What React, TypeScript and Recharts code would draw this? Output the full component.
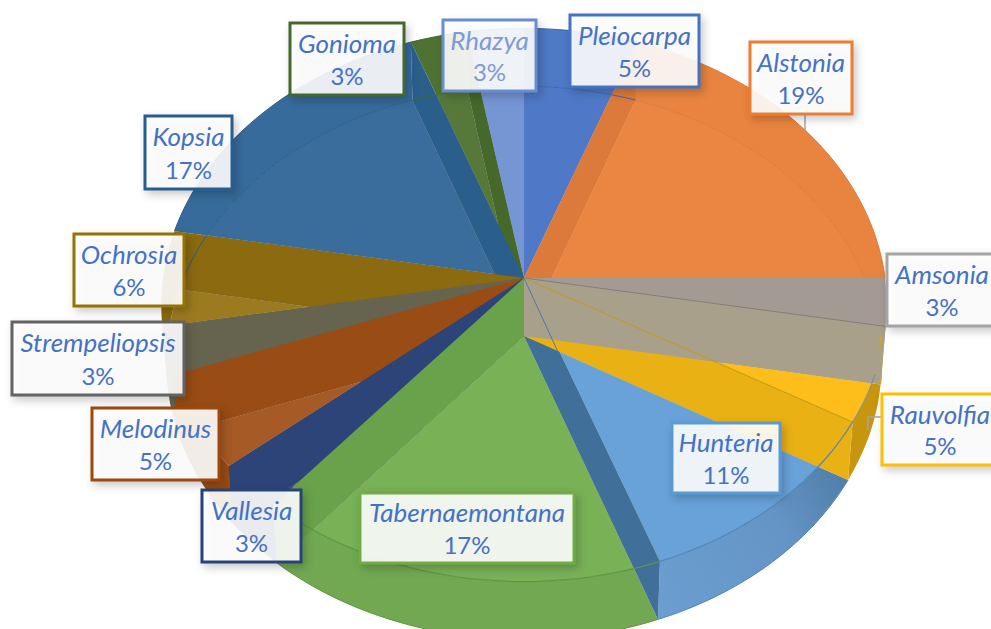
import React from "react";
import { PieChart, Pie } from "recharts";

const genera = ["Pleiocarpa", "Alstonia", "Amsonia", "Rauvolfia", "Hunteria", "Tabernaemontana", "Vallesia", "Melodinus", "Strempeliopsis", "Ochrosia", "Kopsia", "Gonioma", "Rhazya"];
const counts = [2, 7, 1, 2, 4, 6, 1, 2, 1, 2, 6, 1, 1];
const percentLabels = ["5%", "19%", "3%", "5%", "11%", "17%", "3%", "5%", "3%", "6%", "17%", "3%", "3%"];

const rows = genera.map((name, i) => ({ name, value: counts[i], percent: percentLabels[i] }));

// paint order, back to front, so the inner walls overlap as in the 3D original
const paintOrder = ["Rhazya", "Gonioma", "Kopsia", "Ochrosia", "Strempeliopsis", "Melodinus", "Vallesia", "Tabernaemontana", "Hunteria", "Rauvolfia", "Pleiocarpa", "Alstonia", "Amsonia"];

const baseColor: Record<string, string> = {
  Pleiocarpa: "#4e79c5", Alstonia: "#e8843f", Amsonia: "#a39a94", Rauvolfia: "#c8950f", Hunteria: "url(#hunteriaRim)",
  Tabernaemontana: "#72a852", Vallesia: "#2c4477", Melodinus: "#994c14", Strempeliopsis: "#66644f", Ochrosia: "#8b6a10",
  Kopsia: "#366b9b", Gonioma: "#4f7232", Rhazya: "#7595d3",
};
const faceColor: Record<string, string> = {
  Pleiocarpa: "#4f79c6", Alstonia: "#ea8642", Amsonia: "#a39a94", Rauvolfia: "#fdbd1b", Hunteria: "#68a2d9",
  Tabernaemontana: "#79b157", Vallesia: "#2c4477", Melodinus: "#a65a25", Strempeliopsis: "#66644f", Ochrosia: "#9c7a1f",
  Kopsia: "#3a6c9c", Gonioma: "#56793a", Rhazya: "#7595d3",
};
const wallColor: Record<string, string> = {
  Alstonia: "#db7a3a", Amsonia: "#a8a08b", Rauvolfia: "#e9b114", Hunteria: "#40709a",
  Tabernaemontana: "#69a24a", Vallesia: "#2c4477", Melodinus: "#994c14", Strempeliopsis: "#66644f", Ochrosia: "#8b6a10",
  Kopsia: "#2a5f8b", Gonioma: "#46682b",
};
const borderColor = ["#4472c4", "#ed7d31", "#a5a5a5", "#ffc000", "#5b9bd5", "#70ad47", "#264478", "#9e480e", "#636363", "#997300", "#255e91", "#43682b", "#698ed0"];
const labelBoxes = [
  [570, 15, 129, 72], [750, 42, 102, 72], [887, 254, 110, 72], [882, 394, 116, 71], [672, 423, 108, 70], [360, 493, 214, 70], [202, 490, 99, 72],
  [92, 408, 127, 72], [12, 322, 172, 73], [74, 234, 110, 72], [145, 116, 87, 73], [290, 23, 114, 72], [443, 20, 93, 71],
];

// top disc hangs from the apex, bottom disc from a hub 58px lower
const DISC_DROP = 58;
const TOP_RADIUS = 361;
const BOTTOM_RADIUS = 356;
const DEPTH_RADIUS = 274;
const TILT = 0.0974;

type Pt = [number, number];

function rimPoint(cx: number, hubY: number, radius: number, deg: number): Pt {
  const rad = (deg * Math.PI) / 180;
  const d = 1 + TILT * Math.cos(rad);
  return [cx + (radius * Math.sin(rad)) / d, hubY - (DEPTH_RADIUS * Math.cos(rad)) / d];
}

function arc(cx: number, hubY: number, radius: number, from: number, to: number): Pt[] {
  const pts: Pt[] = [];
  const n = Math.max(2, Math.ceil(Math.abs(to - from) / 2));
  for (let i = 0; i <= n; i++) pts.push(rimPoint(cx, hubY, radius, from + ((to - from) * i) / n));
  return pts;
}

const toPath = (pts: Pt[]) => "M" + pts.map((p) => `${p[0].toFixed(1)},${p[1].toFixed(1)}`).join("L") + "Z";
const toLine = (pts: Pt[]) => "M" + pts.map((p) => `${p[0].toFixed(1)},${p[1].toFixed(1)}`).join("L");

function sliceAngles(props: any) {
  // recharts angles run clockwise from 90deg here, convert to degrees from 12 o'clock
  return { from: 90 - props.startAngle, to: 90 - props.endAngle };
}

function SliceShape(only: string) {
  return (props: any) => {
    const name = props.name ?? props.payload?.name;
    if (name !== only) return <g />;
    const { cx, cy } = props;
    const { from, to } = sliceAngles(props);
    const hubQ = cy + DISC_DROP;
    const top = arc(cx, cy, TOP_RADIUS, from, to);
    const bottom = arc(cx, hubQ, BOTTOM_RADIUS, from, to);
    const footprint: Pt[] = [[cx, cy], ...top, ...[...bottom].reverse(), [cx, hubQ]];
    const wallAt = name === "Alstonia" ? from : to;
    const wall: Pt[] = [[cx, cy], rimPoint(cx, cy, TOP_RADIUS, wallAt), rimPoint(cx, hubQ, BOTTOM_RADIUS, wallAt), [cx, hubQ]];
    const clipId = `clip-${name}`;
    return (
      <g>
        <linearGradient id="hunteriaRim" gradientUnits="userSpaceOnUse" x1={660} y1={600} x2={850} y2={470}>
          <stop offset="0%" stopColor="#6b9dd0" />
          <stop offset="60%" stopColor="#6595c6" />
          <stop offset="100%" stopColor="#4f7ca6" />
        </linearGradient>
        <clipPath id={clipId}>
          <path d={toPath([[cx, hubQ], ...bottom])} />
        </clipPath>
        <path d={toPath(footprint)} fill={baseColor[name]} />
        <path d={toPath([[cx, cy], ...top])} fill={faceColor[name]} clipPath={`url(#${clipId})`} />
        {wallColor[name] && <path d={toPath(wall)} fill={wallColor[name]} />}
      </g>
    );
  };
}

// thin lines that show through the translucent pie, drawn above every slice
function EdgeShape(props: any) {
  const { cx, cy } = props;
  const name = props.name ?? props.payload?.name;
  const { from, to } = sliceAngles(props);
  const hubQ = cy + DISC_DROP;
  const upper = from < 90 || from >= 270;
  const seen: React.ReactNode[] = [];
  if (upper) {
    // the inner arc of Alstonia stops where the grey slice starts
    const innerEnd = name === "Alstonia" ? 77.5 : to;
    seen.push(<path key="in" d={toLine(arc(cx, hubQ, BOTTOM_RADIUS, from, innerEnd))} fill="none" stroke={wallColor[name] ?? "#3e66ae"} strokeWidth={1} />);
    seen.push(<path key="out" d={toLine(arc(cx, cy, TOP_RADIUS, from, to))} fill="none" stroke={wallColor[name] ?? "#3e66ae"} strokeWidth={1} />);
  } else if (from >= 120 && from < 220) {
    const stroke = name === "Hunteria" ? "#4f86b8" : "#5f9440";
    seen.push(<path key="p" d={toLine(arc(cx, cy, TOP_RADIUS, from, to))} fill="none" stroke={stroke} strokeWidth={1.2} />);
    seen.push(<path key="q" d={toLine(arc(cx, hubQ, BOTTOM_RADIUS, from, to))} fill="none" stroke={stroke} strokeWidth={1} />);
  }
  if (name === "Amsonia") {
    seen.push(<path key="r" d={toLine([[cx, cy], rimPoint(cx, cy, TOP_RADIUS, to)])} stroke="#857d72" strokeWidth={1} />);
    seen.push(<path key="e" d={toLine(arc(cx, hubQ, BOTTOM_RADIUS, from, to))} fill="none" stroke="#d0a520" strokeWidth={1.2} />);
  }
  if (name === "Rauvolfia") {
    seen.push(<path key="r" d={toLine([[cx, cy], rimPoint(cx, cy, TOP_RADIUS, to)])} stroke="#c59a10" strokeWidth={1} />);
    seen.push(<path key="a" d={toLine(arc(cx, cy, TOP_RADIUS, from + 10, to))} fill="none" stroke="#4f86b8" strokeWidth={0.8} />);
  }
  if (name === "Hunteria") {
    seen.push(<path key="r" d={toLine([[cx, cy], [cx + 34, cy + 74]])} stroke="#4a7ba8" strokeWidth={1} />);
  }
  return <g>{seen}</g>;
}

function DataLabel(props: any) {
  const i = props.index;
  const [x, y, w, h] = labelBoxes[i];
  const mid = x + w / 2;
  const ink = genera[i] === "Rhazya" ? "#7f9ad6" : "#4472c4";
  return (
    <g>
      {genera[i] === "Alstonia" && <path d="M805,115V130" stroke="#a5a5a5" strokeWidth={1.5} fill="none" />}
      {genera[i] === "Rauvolfia" && <path d="M881,417H868V430" stroke="#a5a5a5" strokeWidth={1.5} fill="none" />}
      <rect
        x={x}
        y={y}
        width={w}
        height={h}
        fill="#fff"
        fillOpacity={0.9}
        stroke={borderColor[i]}
        strokeWidth={3}
        style={{ filter: "drop-shadow(3px 4px 4px rgba(0,0,0,0.22))" }}
      />
      <text x={mid} y={y + h * 0.39 + 2} textAnchor="middle" fontFamily="Lato" fontStyle="italic" fontSize={26} fill={ink}>
        {genera[i]}
      </text>
      <text x={mid} y={y + h * 0.85 + 1} textAnchor="middle" fontFamily="Lato" fontSize={24} fill={ink}>
        {percentLabels[i]}
      </text>
    </g>
  );
}

export default function App() {
  return (
    <div style={{ position: "absolute", left: 0, top: 0, width: 991, height: 629, overflow: "hidden", background: "#fff" }}>
      <PieChart width={991} height={629} margin={{ top: 0, right: 0, bottom: 0, left: 0 }}>
        {paintOrder.map((name) => (
          <Pie
            key={name}
            data={rows}
            dataKey="value"
            nameKey="name"
            cx={524}
            cy={278}
            outerRadius={250}
            startAngle={90}
            endAngle={-270}
            stroke="none"
            shape={SliceShape(name)}
            isAnimationActive={false}
          />
        ))}
        <Pie
          data={rows}
          dataKey="value"
          nameKey="name"
          cx={524}
          cy={278}
          outerRadius={250}
          startAngle={90}
          endAngle={-270}
          stroke="none"
          shape={EdgeShape}
          label={DataLabel}
          labelLine={false}
          isAnimationActive={false}
        />
      </PieChart>
    </div>
  );
}
